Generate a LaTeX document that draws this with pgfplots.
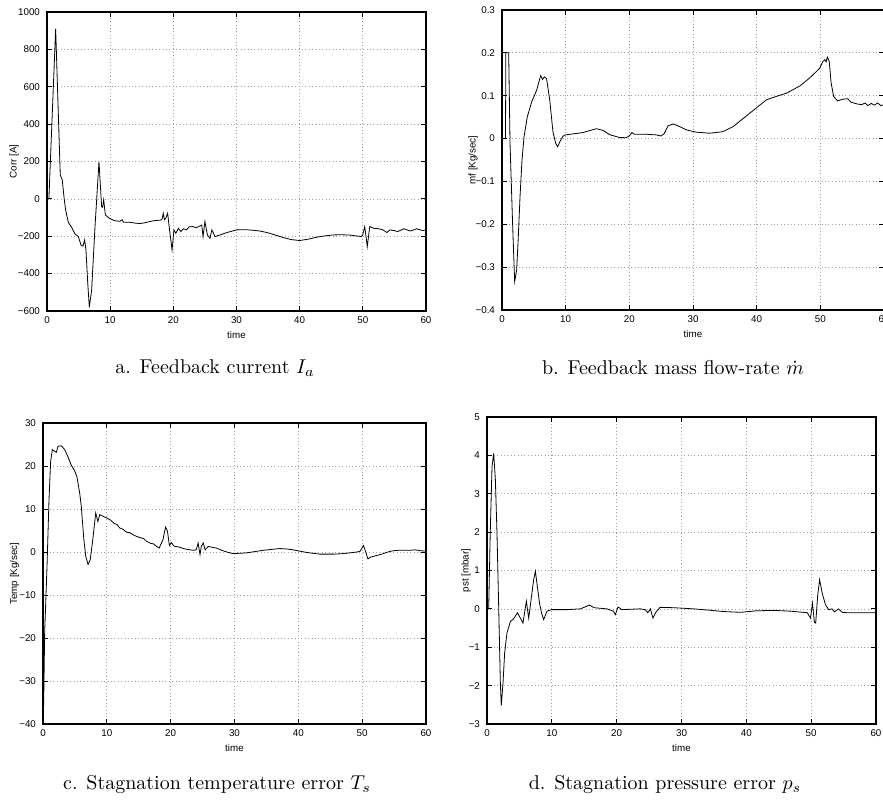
\documentclass[border=0pt]{standalone}
\usepackage{pgfplots}
\pgfplotsset{compat=1.18}
\usepackage{fontspec}
\newfontfamily\hel{Liberation Sans}
\pgfplotsset{
  mstyle/.style={
    scale only axis,
    xmin=0, xmax=60,
    xtick={0,10,...,60},
    xticklabels={0,10,20,30,40,50,60},
    tick align=inside,
    tick pos=both,
    major tick length=2.3pt,
    grid=major,
    major grid style={gray!75, line width=0.35pt, dash pattern=on 0.4pt off 1.3pt},
    axis line style={line width=0.55pt},
    tick style={black, line width=0.45pt},
    tick label style={font=\hel\fontsize{4.9}{5.5}\selectfont},
    label style={font=\hel\fontsize{4.9}{5.5}\selectfont},
    xticklabel style={yshift=0.6pt},
    xlabel=time,
    xlabel style={yshift=3.2pt},
    cycle list={{black, no markers, line width=0.7pt, line join=round}},
  },
  ylab/.style={every axis y label/.style={at={(axis description cs:#1,0.5)}, rotate=90, anchor=center, font=\hel\fontsize{4.9}{5.5}\selectfont}},
}
\begin{document}
\begin{tikzpicture}
\useasboundingbox (0,0) rectangle (441.5pt,-400.5pt);
% ---------------- a ----------------
\begin{axis}[mstyle, ylab=-0.087, at={(23.5pt,-6pt)}, anchor=north west,
  width=189.5pt, height=149.5pt,
  ymin=-600, ymax=1000, ytick={-600,-400,...,1000},
  yticklabels={−600,−400,−200,0,200,400,600,800,1000},
  ylabel={Corr [A]}]
\addplot coordinates {
(0,0) (0.3,0) (1.37,910) (2.1,128) (2.42,101) (2.74,-6) (2.95,-59) (3.37,-125)
(3.9,-152) (4.43,-188) (4.96,-202) (5.38,-247) (5.7,-253) (5.96,-220) (6.17,-274)
(6.45,-450) (6.7,-580) (7.07,-487) (7.6,-149) (8.23,199) (8.65,-42) (8.8,-45)
(8.97,-5) (9.24,-86) (9.87,-104) (10.7,-117) (11.5,-120) (11.9,-112) (12.1,-125)
(13,-125) (14,-130) (14.7,-132) (15.5,-128) (16.3,-121) (17.1,-116) (17.9,-114)
(18.2,-110) (18.4,-77) (18.6,-112) (18.85,-100) (19.1,-77) (19.4,-166) (19.8,-273)
(20.1,-166) (20.4,-184) (20.8,-157) (21.2,-175) (21.6,-160) (22.1,-166) (22.5,-150)
(23.1,-148) (23.6,-155) (24.2,-145) (24.5,-140) (24.7,-202) (25.0,-121) (25.4,-193)
(25.8,-211) (26.1,-166) (26.6,-202) (27.4,-193) (28.5,-180) (30,-166) (31.5,-165)
(32.6,-168) (33.7,-172) (34.8,-180) (36,-192) (37.4,-207) (38.7,-218) (40.0,-223)
(41.3,-216) (42.7,-205) (44,-198) (45.3,-193) (46.6,-192) (48,-194) (49.8,-202)
(50.0,-190) (50.3,-148) (50.5,-200) (50.7,-255) (51.1,-148) (51.7,-157) (52.5,-160)
(53.2,-166) (53.8,-180) (54.3,-166) (55,-170) (55.5,-175) (56,-168) (56.5,-160)
(57,-166) (57.5,-172) (58,-167) (58.5,-160) (59,-165) (59.5,-170) (60,-166)
};
\end{axis}
% ---------------- b ----------------
\begin{axis}[mstyle, ylab=-0.076, at={(251pt,-5pt)}, anchor=north west,
  width=191pt, height=150pt,
  ymin=-0.4, ymax=0.3, ytick={-0.4,-0.3,...,0.3},
  yticklabels={−0.4,−0.3,−0.2,−0.1,0,0.1,0.2,0.3},
  ylabel={mf [Kg/sec]}]
\addplot coordinates {
(0,0) (0.55,0) (0.6,0.2) (1.05,0.2) (1.26,-0.011) (1.68,-0.206) (1.99,-0.334)
(2.3,-0.307) (2.56,-0.229) (2.83,-0.136) (3.14,-0.05) (3.46,0.004) (3.98,0.051)
(4.66,0.086) (5.08,0.1) (5.44,0.113) (5.76,0.13) (6.07,0.147) (6.38,0.138)
(6.65,0.144) (7.0,0.14) (7.5,0.09) (8.0,0.016) (8.43,-0.011) (8.74,-0.019)
(9.1,-0.007) (9.6,0.006) (10,0.0086) (10.7,0.01) (12.7,0.014) (14.8,0.023)
(15.9,0.019) (16.9,0.009) (18.5,0.0024) (19.5,0.002) (20.05,0.007) (20.4,0.014)
(20.8,0.01) (22.7,0.01) (24.2,0.0086) (25.0,0.006) (25.5,0.012) (26.1,0.03)
(26.9,0.034) (27.6,0.03) (29,0.02) (30.5,0.015) (32.6,0.0125) (34.7,0.016)
(36.3,0.028) (37.9,0.047) (39.9,0.071) (41.5,0.09) (42.6,0.096) (44.7,0.106)
(46.8,0.123) (48.3,0.141) (49.9,0.164) (50.4,0.18) (50.7,0.184) (50.9,0.179)
(51.1,0.19) (51.4,0.18) (51.7,0.129) (52.1,0.098) (52.7,0.088) (53.6,0.092)
(54.3,0.093) (54.8,0.085) (55.7,0.081) (56.5,0.079) (57,0.083) (57.5,0.077)
(58,0.082) (58.5,0.078) (59,0.083) (59.5,0.077) (60,0.079)
};
\end{axis}
% ---------------- c ----------------
\begin{axis}[mstyle, ylab=-0.074, at={(21.5pt,-211.5pt)}, anchor=north west,
  width=191.5pt, height=150.5pt,
  ymin=-40, ymax=30, ytick={-40,-30,...,30},
  yticklabels={−40,−30,−20,−10,0,10,20,30},
  ylabel={Temp [Kg/sec]}]
\addplot coordinates {
(0.1,-35.9) (0.26,-18.8) (0.63,-3.3) (0.94,12.2) (1.2,21.1) (1.46,23.8) (1.83,23.4)
(2.09,23.2) (2.35,24.6) (2.9,24.7) (3.4,23.8) (3.9,22.2) (4.4,20.3) (4.97,18.8)
(5.3,17.6) (5.75,13.7) (6.0,10.6) (6.4,2.9) (6.7,-1) (7.06,-2.9) (7.4,-1.8)
(7.8,2.9) (8.26,9.1) (8.6,7.1) (8.9,8.7) (9.4,8.3) (10.0,7.9) (10.5,7.5)
(11.2,6.6) (11.6,6.4) (12.0,5.6) (12.5,5.3) (13.1,4.6) (13.6,4.5) (14.1,4.0) (14.7,3.6)
(15.3,3.3) (15.8,3.1) (16.2,2.5) (16.9,2.0) (17.3,1.9) (17.8,1.3) (18.2,0.9) (18.8,2.9) (19.2,5.8)
(19.5,4.8) (19.8,1.5) (20.1,2.2) (20.4,1.6) (20.6,1.3) (21.2,1.2) (22,0.8)
(22.6,0.6) (23.5,0.4) (24.0,0.5) (24.3,2.1) (24.6,-0.6) (24.8,1.3) (25.1,2.1)
(25.4,0.5) (25.9,1.3) (26.5,1.1) (27.2,0.9) (28.0,0.4) (28.8,0) (29.8,-0.4)
(30.8,-0.3) (31.9,-0.2) (33.2,0.1) (34.5,0.4) (35.8,0.6) (37.1,0.8) (38.2,0.7)
(39.2,0.5) (40.2,0.2) (41.3,-0.1) (42.3,-0.3) (43.4,-0.5) (44.5,-0.5) (45.5,-0.5)
(46.8,-0.4) (48.1,-0.2) (49.2,0) (49.7,0.2) (50.2,1.5) (50.4,0.7) (50.9,-1.6)
(51.3,-1.2) (51.8,-1.0) (52.3,-0.8) (52.8,-0.6) (53.3,-0.4) (53.8,-0.1) (54.3,0.1)
(54.9,0.3) (55.8,0.4) (56.6,0.4) (57.5,0.4) (58.3,0.5) (59.1,0.3) (60,0.2)
};
\end{axis}
% ---------------- d ----------------
\begin{axis}[mstyle, ylab=-0.054, at={(243.5pt,-208.5pt)}, anchor=north west,
  width=194.5pt, height=153.5pt,
  ymin=-3, ymax=5, ytick={-3,-2,...,5},
  yticklabels={−3,−2,−1,0,1,2,3,4,5},
  ylabel={pst [mbar]}]
\addplot coordinates {
(0,0) (0.26,0) (0.5,1.98) (0.77,3.7) (1.03,4.05) (1.29,3.37) (1.54,1.98) (1.8,0.07)
(2.06,-1.93) (2.2,-2.52) (2.47,-1.93) (2.72,-1.15) (3.08,-0.63) (3.6,-0.33)
(4.1,-0.26) (4.7,-0.1) (5.14,-0.24) (5.55,-0.37) (6.07,0.2) (6.43,-0.24) (6.8,0.24)
(7.2,0.76) (7.46,0.98) (7.7,0.67) (8.1,0.15) (8.4,-0.1) (8.74,-0.28) (9.25,-0.06)
(10,-0.02) (12.3,-0.02) (14.4,0) (15.4,0.07) (15.8,0.1) (16.5,0.03) (18.5,0)
(19.5,-0.06) (19.8,-0.15) (20.2,0.05) (20.8,-0.02) (23.6,0) (24.4,-0.02) (24.8,-0.1)
(25.2,0) (25.6,-0.24) (26,-0.1) (26.7,0.04) (28.8,0.03) (31.9,0) (34,-0.03)
(36.5,-0.07) (39.1,-0.09) (41.6,-0.05) (44.2,-0.04) (46.8,-0.06) (49.4,-0.1)
(49.9,-0.24) (50.2,0.15) (50.5,-0.35) (50.7,-0.37) (51.0,0.33) (51.3,0.76)
(51.7,0.41) (52.2,0.11) (52.7,-0.02) (53.2,0) (53.6,-0.08) (54.2,0) (54.8,-0.09)
(55.5,-0.1) (60,-0.1)
};
\end{axis}
% captions
\node at (107.5pt,-184pt) {a. Feedback current $I_a$};
\node at (336.5pt,-184pt) {b. Feedback mass flow-rate $\dot{m}$};
\node at (108.5pt,-392.5pt) {c. Stagnation temperature error $T_s$};
\node at (332.5pt,-392.5pt) {d. Stagnation pressure error $p_s$};
\end{tikzpicture}
\end{document}
